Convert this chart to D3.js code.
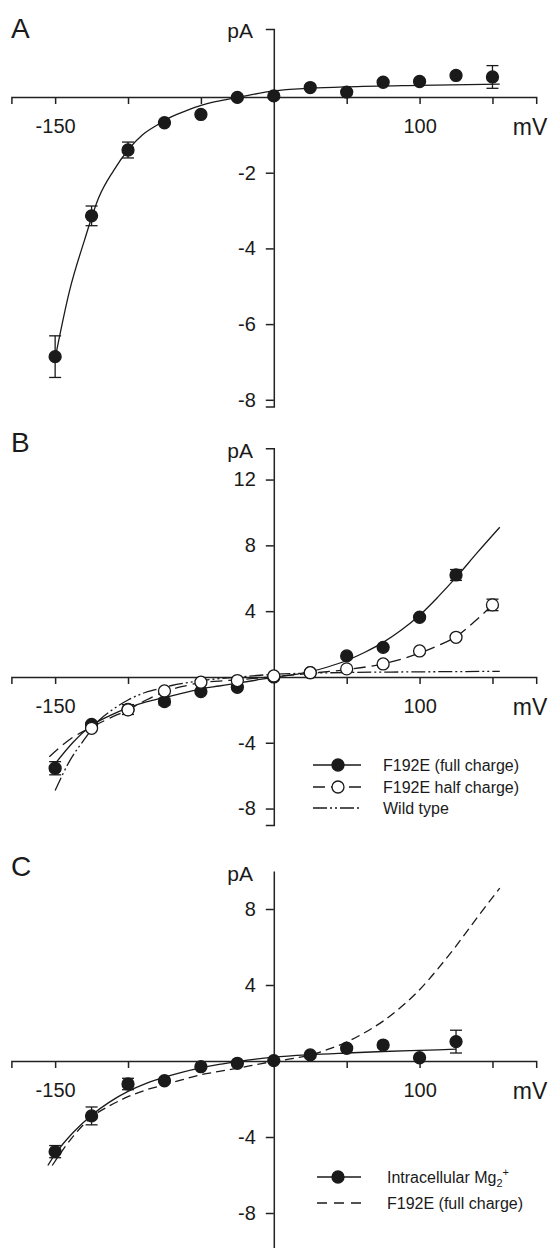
<!DOCTYPE html>
<html>
<head>
<meta charset="utf-8">
<script src="https://cdn.jsdelivr.net/npm/d3@7"></script>
<style>
  body { margin: 0; background: #fff; }
  svg text { font-family: "Liberation Sans", Arial, sans-serif; fill: #1a1a1a; }
</style>
</head>
<body>
<script>
// membrane potential steps (mV)
const voltages = [-150, -125, -100, -75, -50, -25, 0, 25, 50, 75, 100, 125, 150];
const xTicks = [-150, -100, -50, 50, 100, 150];
const xLabels = [-150, 100];

// A: wild type
const wtCurrent = [-6.86, -3.14, -1.40, -0.68, -0.46, -0.01, 0.03, 0.25, 0.13, 0.39, 0.41, 0.57, 0.53];
const wtError   = [0.55, 0.26, 0.21, 0, 0, 0, 0, 0, 0, 0, 0, 0, 0.3];
const wtFitV = [-150, -140, -130, -120, -110, -100, -90, -80, -70, -60, -50, -40, -25, 0, 25, 50, 100, 155];
const wtFitI = [-6.9, -5.1, -3.8, -2.65, -1.95, -1.40, -1.0, -0.74, -0.52, -0.36, -0.22, -0.12, -0.01, 0.16, 0.23, 0.27, 0.31, 0.34];

// B: F192E full charge (filled) and half charge (open)
const fullVolt    = [-150, -125, -100, -75, -50, -25, 0, 25, 50, 75, 100, 125];
const fullCurrent = [-5.55, -2.88, -1.98, -1.50, -0.89, -0.63, 0.0, 0.26, 1.28, 1.80, 3.63, 6.2];
const fullError   = [0.4, 0.1, 0.3, 0.2, 0, 0, 0, 0, 0, 0, 0, 0.33];
const halfVolt    = [-125, -100, -75, -50, -25, 0, 25, 50, 75, 100, 125, 150];
const halfCurrent = [-3.12, -2.0, -0.85, -0.32, -0.22, 0.06, 0.26, 0.49, 0.79, 1.58, 2.41, 4.38];
const halfError   = [0, 0, 0, 0, 0, 0, 0, 0, 0, 0, 0, 0.35];
const fullFitV = [-152, -137.5, -125, -112.5, -100, -87.5, -75, -62.5, -50, -37.5, -25, -12.5, 0, 12.5, 25, 37.5, 50, 62.5, 75, 87.5, 100, 112.5, 125, 140, 155];
const fullFitI = [-5.5, -3.95, -2.95, -2.35, -1.88, -1.52, -1.25, -0.98, -0.72, -0.55, -0.38, -0.2, -0.02, 0.12, 0.32, 0.62, 1.0, 1.5, 2.1, 2.85, 3.75, 4.85, 6.05, 7.6, 9.1];
const halfFitV = [-154, -140, -125, -112.5, -100, -87.5, -75, -62.5, -50, -37.5, -25, 0, 25, 50, 75, 100, 112.5, 125, 137.5, 152];
const halfFitI = [-4.85, -3.8, -3.05, -2.5, -2.0, -1.4, -0.9, -0.58, -0.35, -0.25, -0.17, 0.02, 0.22, 0.45, 0.8, 1.45, 1.9, 2.45, 3.35, 4.55];

// C: intracellular Mg2+
const mgVolt    = [-150, -125, -100, -75, -50, -25, 0, 25, 50, 75, 100, 125];
const mgCurrent = [-4.77, -2.89, -1.21, -1.04, -0.30, -0.12, 0.02, 0.32, 0.67, 0.84, 0.17, 1.02];
const mgError   = [0.32, 0.47, 0.3, 0, 0, 0, 0, 0, 0, 0, 0, 0.6];
const mgFitV = [-155, -150, -137.5, -125, -112.5, -100, -87.5, -75, -62.5, -50, -37.5, -25, -12.5, 0, 25, 50, 75, 100, 125];
const mgFitI = [-5.5, -4.9, -3.75, -2.85, -2.15, -1.6, -1.18, -0.85, -0.58, -0.36, -0.18, -0.03, 0.1, 0.2, 0.33, 0.42, 0.5, 0.56, 0.62];

const svg = d3.select("body").append("svg")
    .attr("width", 549)
    .attr("height", 1248);

const x = d3.scaleLinear().domain([-180, 180]).range([11.4, 536.2]);
const ink = "#1a1a1a";

const zip = (a, b) => a.map((v, i) => [v, b[i]]);

function drawPanel(p) {
    const y = d3.scaleLinear().domain(p.yDomain).range(p.yRange);
    const g = svg.append("g");

    const xAxis = g.append("g")
        .attr("transform", `translate(0,${y(0)})`)
        .attr("color", "#222")
        .call(d3.axisBottom(x)
            .tickValues(xTicks)
            .tickFormat(d => xLabels.includes(d) ? String(d) : "")
            .tickSize(7)
            .tickSizeOuter(7));
    xAxis.selectAll("path, line").attr("stroke-width", 1.5);
    xAxis.selectAll("text")
        .attr("font-size", 20)
        .attr("font-family", "Liberation Sans, Arial, sans-serif")
        .attr("y", 22);

    const yAxis = g.append("g")
        .attr("transform", `translate(${x(0)},0)`)
        .attr("color", "#222")
        .call(d3.axisLeft(y)
            .tickValues(p.yTicks)
            .tickFormat(d => String(d))
            .tickSize(8)
            .tickSizeOuter(p.outer)
            .tickPadding(10));
    yAxis.selectAll("path, line").attr("stroke-width", 1.5);
    yAxis.selectAll("text")
        .attr("font-size", 20)
        .attr("font-family", "Liberation Sans, Arial, sans-serif");

    g.append("text").attr("x", 530).attr("y", y(0) + 38)
        .attr("text-anchor", "middle").attr("font-size", 23).text("mV");
    g.append("text").attr("x", 253).attr("y", p.yRange[1] + 9.5)
        .attr("text-anchor", "end").attr("font-size", 21).text("pA");
    g.append("text").attr("x", 11).attr("y", p.letterY)
        .attr("font-size", 28).text(p.letter);

    const line = d3.line()
        .x(d => x(d[0]))
        .y(d => y(d[1]))
        .curve(d3.curveMonotoneX);

    p.curves.forEach(c => {
        g.append("path")
            .attr("d", line(c.data))
            .attr("fill", "none")
            .attr("stroke", ink)
            .attr("stroke-width", 1.3)
            .attr("stroke-dasharray", c.dash || null);
    });

    p.points.forEach(s => {
        const pts = s.v.map((v, i) => ({ v: v, i: s.i[i], e: s.e[i] }));
        const eb = g.append("g").attr("stroke", ink).attr("stroke-width", 1.3);
        pts.filter(d => d.e > 0).forEach(d => {
            eb.append("line").attr("x1", x(d.v)).attr("x2", x(d.v))
                .attr("y1", y(d.i - d.e)).attr("y2", y(d.i + d.e));
            [d.i - d.e, d.i + d.e].forEach(t => {
                eb.append("line").attr("x1", x(d.v) - 6).attr("x2", x(d.v) + 6)
                    .attr("y1", y(t)).attr("y2", y(t));
            });
        });
        g.append("g").selectAll("circle")
            .data(pts)
            .enter()
            .append("circle")
            .attr("cx", d => x(d.v))
            .attr("cy", d => y(d.i))
            .attr("r", 6)
            .attr("fill", s.open ? "#fff" : ink)
            .attr("stroke", ink)
            .attr("stroke-width", 1.3);
    });
}

// A
drawPanel({
    letter: "A", letterY: 38,
    yDomain: [-8.18, 1.8], yRange: [406.6, 28.9],
    yTicks: [-8, -6, -4, -2], outer: 8,
    curves: [{ data: zip(wtFitV, wtFitI) }],
    points: [{ v: voltages, i: wtCurrent, e: wtError, open: false }]
});

// B
drawPanel({
    letter: "B", letterY: 452,
    yDomain: [-9.0, 13.9], yRange: [825, 448.3],
    yTicks: [-8, -4, 4, 8, 12], outer: 8,
    curves: [
        { data: zip(wtFitV, wtFitI), dash: "14,3,2,3,2,3" },
        { data: zip(halfFitV, halfFitI), dash: "12,6" },
        { data: zip(fullFitV, fullFitI) }
    ],
    points: [
        { v: fullVolt, i: fullCurrent, e: fullError, open: false },
        { v: halfVolt, i: halfCurrent, e: halfError, open: true }
    ]
});

// C
drawPanel({
    letter: "C", letterY: 876,
    yDomain: [-10, 10], yRange: [1251, 871],
    yTicks: [-8, -4, 4, 8], outer: 0,
    curves: [
        { data: zip(fullFitV, fullFitI), dash: "9,5" },
        { data: zip(mgFitV, mgFitI) }
    ],
    points: [{ v: mgVolt, i: mgCurrent, e: mgError, open: false }]
});

// legends
function legendRow(y0, x1, x2, xm, dash, marker, label, tx) {
    const g = svg.append("g");
    g.append("line").attr("x1", x1).attr("x2", x2).attr("y1", y0).attr("y2", y0)
        .attr("stroke", ink).attr("stroke-width", 1.3)
        .attr("stroke-dasharray", dash);
    if (marker) {
        g.append("circle").attr("cx", xm).attr("cy", y0).attr("r", 6)
            .attr("fill", marker === "open" ? "#fff" : ink)
            .attr("stroke", ink).attr("stroke-width", 1.3);
    }
    return g.append("text").attr("x", tx).attr("y", y0 + 5.5).attr("font-size", 16).text(label);
}

legendRow(765, 313, 361, 338, null, "filled", "F192E (full charge)", 383);
legendRow(787, 313, 361, 338, "12,6", "open", "F192E half charge)", 383);
legendRow(808, 313, 361, 338, "14,3,2,3,2,3", null, "Wild type", 383);

const mgLabel = legendRow(1177, 317, 361, 338, null, "filled", "Intracellular Mg", 387);
mgLabel.append("tspan").attr("font-size", 11).attr("dy", 4).text("2");
mgLabel.append("tspan").attr("font-size", 11).attr("dy", -11).text("+");
legendRow(1203, 317, 361, 338, "10,7", null, "F192E (full charge)", 387);
</script>
</body>
</html>
